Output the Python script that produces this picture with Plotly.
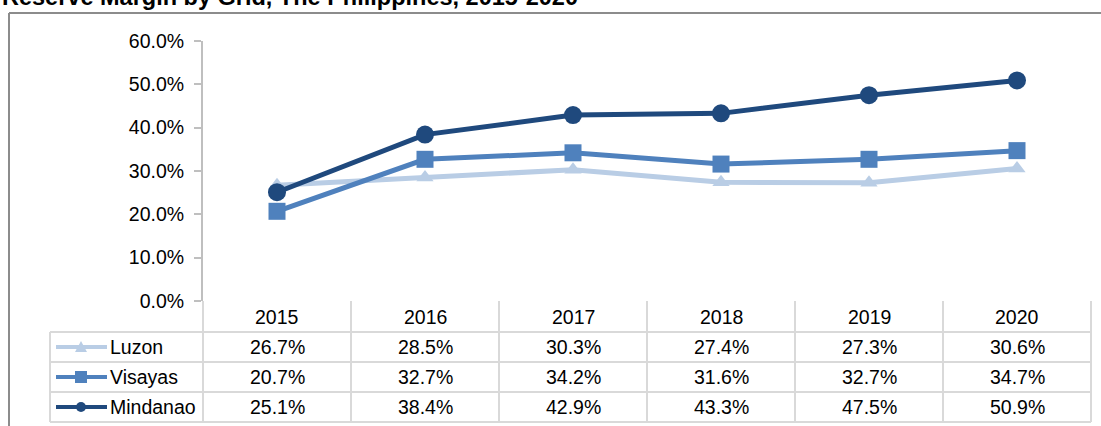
import plotly.graph_objects as go

# reserve margin by grid, %
years = ["2015", "2016", "2017", "2018", "2019", "2020"]
luzon = [26.7, 28.5, 30.3, 27.4, 27.3, 30.6]
visayas = [20.7, 32.7, 34.2, 31.6, 32.7, 34.7]
mindanao = [25.1, 38.4, 42.9, 43.3, 47.5, 50.9]
grids = ["Luzon", "Visayas", "Mindanao"]
colors = ["#b9cde5", "#4f81bd", "#1f497d"]
symbols = ["triangle-up", "square", "circle"]

W, H = 1101, 426
PLOT_L, PLOT_R, PLOT_T, PLOT_B = 203, 1091, 41, 301   # screenshot pixels
L, T = PLOT_L, PLOT_T
PW, PH = PLOT_R - PLOT_L, PLOT_B - PLOT_T
R, B = W - L - PW, H - T - PH
FONT = "Arial, Liberation Sans, sans-serif"
FS = 19.5
GRID = "#d9d9d9"


def px_x(x):
    return (x - PLOT_L) / PW


def px_y(y):
    return (PLOT_B - y) / PH


fig = go.Figure()
series = [luzon, visayas, mindanao]
sizes = [15, 17, 18]
for name, vals, c, s, sz in zip(grids, series, colors, symbols, sizes):
    fig.add_trace(go.Scatter(
        x=years, y=vals, name=name, mode="lines+markers",
        line=dict(color=c, width=5),
        marker=dict(symbol=s, size=sz, color=c),
        cliponaxis=False,
    ))

shapes = []
# frame
shapes.append(dict(type="line", xref="paper", yref="paper",
                   x0=px_x(9), x1=px_x(1110), y0=px_y(13), y1=px_y(13),
                   line=dict(color="#8c8c8c", width=2)))
shapes.append(dict(type="line", xref="paper", yref="paper",
                   x0=px_x(9), x1=px_x(9), y0=px_y(13), y1=px_y(440),
                   line=dict(color="#8c8c8c", width=2)))

# data table grid
for yy in [332, 362, 392, 422]:
    shapes.append(dict(type="line", xref="paper", yref="paper",
                       x0=px_x(50), x1=1, y0=px_y(yy), y1=px_y(yy),
                       line=dict(color=GRID, width=2)))
shapes.append(dict(type="line", xref="paper", yref="paper",
                   x0=px_x(50), x1=px_x(50), y0=px_y(332), y1=px_y(422),
                   line=dict(color=GRID, width=2)))
for i in range(len(years) + 1):
    xx = i / len(years)
    shapes.append(dict(type="line", xref="paper", yref="paper",
                       x0=xx, x1=xx, y0=0, y1=px_y(422),
                       line=dict(color=GRID, width=2)))

annotations = []
# title (clipped at top as in the source)
annotations.append(dict(text="<b>Reserve Margin by Grid, The Philippines, 2015-2020</b>",
                        xref="paper", yref="paper", x=px_x(0), y=px_y(12),
                        xanchor="left", yanchor="bottom", showarrow=False,
                        font=dict(family="Liberation Sans, Arial", size=23.5, color="#000000")))


def col_x(i):
    return (i + 0.5) / len(years)


for i, yr in enumerate(years):
    annotations.append(dict(text=yr, xref="paper", yref="paper", x=col_x(i), y=px_y(317),
                            xanchor="center", yanchor="middle", showarrow=False,
                            font=dict(family=FONT, size=FS, color="#000000")))

row_centers = [347, 377, 407]
for name, vals, c, s, yc in zip(grids, series, colors, symbols, row_centers):
    for i, v in enumerate(vals):
        annotations.append(dict(text=f"{v:.1f}%", xref="paper", yref="paper",
                                x=col_x(i), y=px_y(yc),
                                xanchor="center", yanchor="middle", showarrow=False,
                                font=dict(family=FONT, size=FS, color="#000000")))
    annotations.append(dict(text=name, xref="paper", yref="paper", x=px_x(108), y=px_y(yc),
                            xanchor="left", yanchor="middle", showarrow=False,
                            font=dict(family=FONT, size=FS, color="#000000")))
    # legend key
    shapes.append(dict(type="line", xref="paper", yref="paper",
                       x0=px_x(56), x1=px_x(107), y0=px_y(yc), y1=px_y(yc),
                       line=dict(color=c, width=4)))
    mx, my = px_x(81), px_y(yc)
    if s == "circle":
        shapes.append(dict(type="circle", xref="paper", yref="paper",
                           xsizemode="pixel", ysizemode="pixel", xanchor=mx, yanchor=my,
                           x0=-5, x1=5, y0=-5, y1=5, fillcolor=c, line=dict(width=0)))
    elif s == "square":
        shapes.append(dict(type="rect", xref="paper", yref="paper",
                           xsizemode="pixel", ysizemode="pixel", xanchor=mx, yanchor=my,
                           x0=-6, x1=6, y0=-6, y1=6, fillcolor=c, line=dict(width=0)))
    else:
        shapes.append(dict(type="path", xref="paper", yref="paper",
                           xsizemode="pixel", ysizemode="pixel", xanchor=mx, yanchor=my,
                           path="M -6 -5 L 6 -5 L 0 6 Z", fillcolor=c, line=dict(width=0)))

fig.update_layout(
    width=W, height=H,
    margin=dict(l=L, r=R, t=T, b=B),
    plot_bgcolor="white", paper_bgcolor="white",
    showlegend=False,
    shapes=shapes, annotations=annotations,
    xaxis=dict(type="category", range=[-0.5, 5.5], showticklabels=False,
               showgrid=False, zeroline=False, showline=False, ticks=""),
    yaxis=dict(range=[0, 60], dtick=10, tickformat=".1f", ticksuffix="%",
               showgrid=False, zeroline=False, showline=True, linecolor="#bfbfbf",
               linewidth=2, ticks="outside", ticklen=7, tickcolor="#bfbfbf", tickwidth=2,
               ticklabelstandoff=6,
               tickfont=dict(family=FONT, size=FS, color="#000000")),
)

# drop the default page margin so the figure fills the window from the corner
fig.write_html("out.html", config={"displayModeBar": False},
               post_script="document.body.style.margin='0';document.body.style.overflow='hidden';")
